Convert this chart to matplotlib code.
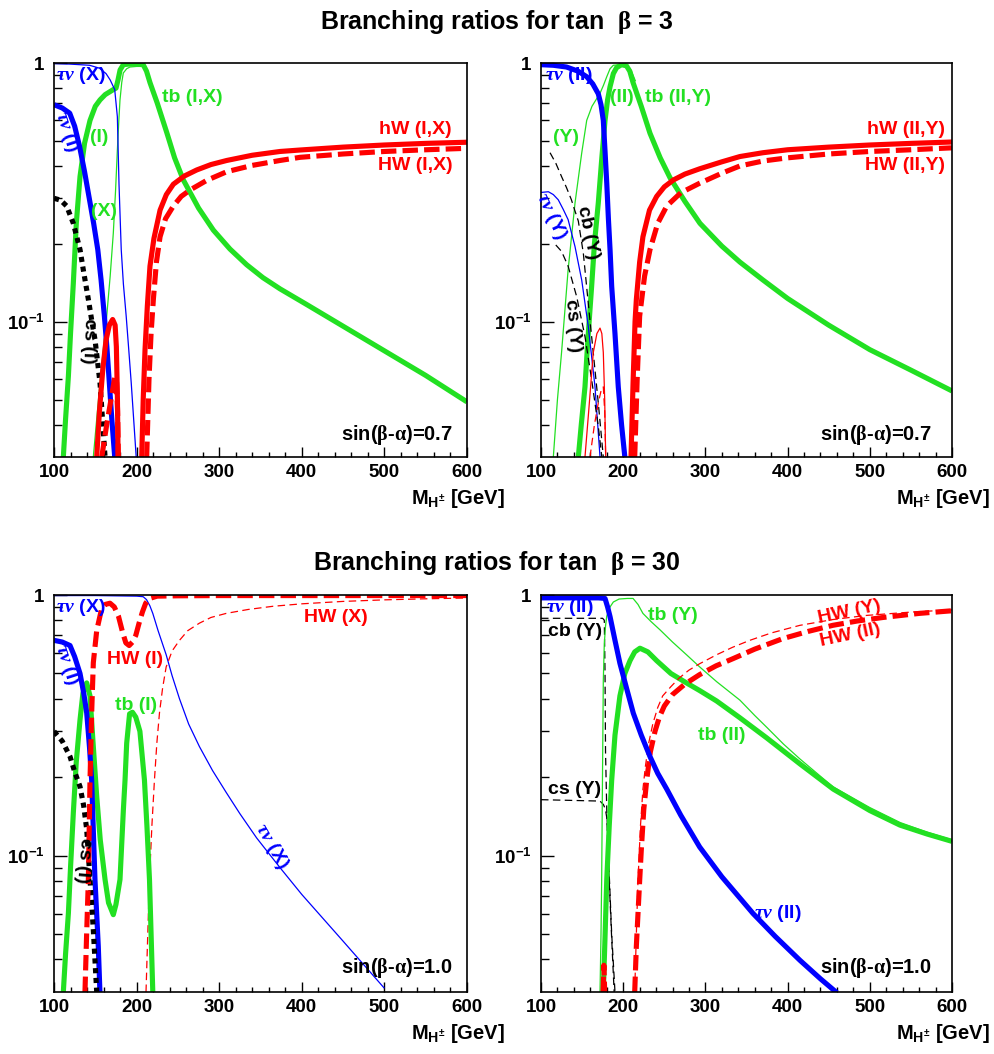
import matplotlib
matplotlib.use("Agg")
import matplotlib.pyplot as plt
from matplotlib import font_manager
from matplotlib.ticker import FixedLocator, NullFormatter

# ---------------- data (M_H+ [GeV], branching ratio) ----------------
# tan(beta)=3, sin(beta-alpha)=0.7, left panel (types I, X)
M_tl_taunu_I = [100, 110, 119, 125, 131, 137, 143, 148, 153, 157, 161, 164, 167, 170, 173.5]
BR_tl_taunu_I = [0.69, 0.67, 0.64, 0.57, 0.475, 0.38, 0.296, 0.24, 0.19, 0.145, 0.105, 0.08, 0.058, 0.042, 0.030]
M_tl_taunu_X = [100, 120, 143, 155, 163, 168, 173.5, 176.7, 178.7, 181.4, 184, 187.4, 190.5, 193.5, 199.5]
BR_tl_taunu_X = [0.995, 0.99, 0.98, 0.955, 0.91, 0.86, 0.79, 0.62, 0.34, 0.19, 0.14, 0.105, 0.078, 0.058, 0.030]
M_tl_tb_I = [111.3, 114, 117.4, 120, 123.4, 127, 131.5, 137, 143.6, 150, 155.7, 162, 167.8, 172, 175.1, 177.5, 180,
             183.9, 190, 200, 208, 212, 216.2, 225, 236.4, 246, 256.6, 275, 292.9, 313, 333.3, 353, 373.6, 405, 455,
             505, 550, 600]
BR_tl_tb_I = [0.03, 0.042, 0.0615, 0.09, 0.141, 0.24, 0.364, 0.49, 0.60, 0.68, 0.72, 0.755, 0.775, 0.79, 0.80, 0.86, 0.94,
              0.985, 0.99, 0.99, 0.985, 0.93, 0.84, 0.70, 0.54, 0.43, 0.353, 0.275, 0.226, 0.191, 0.166, 0.148, 0.134,
              0.117, 0.094, 0.0755, 0.062, 0.049]
M_tl_tb_X = [147.6, 152, 155.7, 160, 163.8, 168, 171.8, 174.5, 176.7, 178.5, 179.9, 182, 183.9, 188, 192, 200, 208, 212,
             216.2, 222]
BR_tl_tb_X = [0.03, 0.043, 0.058, 0.08, 0.105, 0.15, 0.22, 0.32, 0.46, 0.6, 0.72, 0.84, 0.915, 0.95, 0.965, 0.97, 0.97,
              0.93, 0.84, 0.74]
M_tl_cs_I = [100, 108, 115.3, 123.4, 131.5, 136, 141.6, 145.5, 149.7, 155.7, 161.8]
BR_tl_cs_I = [0.30, 0.295, 0.28, 0.24, 0.19, 0.155, 0.122, 0.102, 0.085, 0.058, 0.03]
M_tl_hW_I = [151.7, 155, 159, 163, 167, 171, 174, 175.5, 176.8, 177.6]
BR_tl_hW_I = [0.03, 0.045, 0.065, 0.085, 0.097, 0.102, 0.097, 0.08, 0.05, 0.03]
M_tl_HW_I = [157.8, 163.8, 169.9, 173.9, 175.8, 177, 177.9]
BR_tl_HW_I = [0.03, 0.04, 0.052, 0.062, 0.058, 0.045, 0.03]
M_tl_hW_IX = [206.2, 208, 210.2, 213, 216.2, 221, 228.4, 236, 244.5, 258, 272.8, 290, 309.1, 340, 373.6, 398, 450, 500,
              550, 600]
BR_tl_hW_IX = [0.03, 0.05, 0.078, 0.115, 0.164, 0.21, 0.27, 0.31, 0.34, 0.366, 0.386, 0.405, 0.42, 0.44, 0.455, 0.461,
               0.473, 0.482, 0.489, 0.494]
M_tl_HW_IX = [212.2, 215, 217.5, 220.3, 224, 228.4, 235, 244.5, 254, 264.7, 285, 309.1, 340, 373.6, 398, 450, 500, 550, 600]
BR_tl_HW_IX = [0.03, 0.06, 0.09, 0.122, 0.17, 0.213, 0.25, 0.28, 0.305, 0.323, 0.352, 0.38, 0.402, 0.42, 0.432, 0.445,
               0.455, 0.462, 0.468]

# tan(beta)=3, sin(beta-alpha)=0.7, right panel (types II, Y)
M_tr_taunu_II = [100, 115, 131, 145, 155.6, 163, 169.7, 173, 175.8, 178, 180, 182, 184, 186, 190, 194, 198, 202]
BR_tr_taunu_II = [0.985, 0.98, 0.965, 0.93, 0.885, 0.83, 0.76, 0.69, 0.60, 0.45, 0.343, 0.25, 0.19, 0.137, 0.09, 0.056,
                  0.04, 0.03]
M_tr_taunu_Y = [100, 109, 115, 121, 127, 133, 141.4, 149.5, 157.5, 165.7, 171.8]
BR_tr_taunu_Y = [0.316, 0.318, 0.31, 0.296, 0.272, 0.248, 0.195, 0.145, 0.096, 0.056, 0.03]
M_tr_tb_Y = [115, 120, 125, 133, 141.4, 149.5, 155.6, 162, 171.8, 176, 180, 184, 188, 196, 204, 210, 215]
BR_tr_tb_Y = [0.03, 0.05, 0.076, 0.159, 0.288, 0.448, 0.60, 0.68, 0.764, 0.82, 0.885, 0.95, 0.98, 0.985, 0.985, 0.93, 0.85]
M_tr_tb_II = [145.4, 149, 153.5, 157, 161.6, 165, 169.7, 174, 177.9, 181, 184, 188, 192, 198, 204, 208, 212, 222, 232.6,
              245, 257, 275, 293.4, 320, 342, 370, 400, 450, 500, 550, 600]
BR_tr_tb_II = [0.03, 0.04, 0.056, 0.085, 0.137, 0.2, 0.288, 0.43, 0.60, 0.72, 0.81, 0.91, 0.96, 0.985, 0.975, 0.93, 0.84,
               0.68, 0.535, 0.43, 0.36, 0.292, 0.24, 0.196, 0.17, 0.145, 0.123, 0.097, 0.078, 0.065, 0.054]
M_tr_cb_Y = [111, 118, 125, 131, 137, 141, 145.4, 151.5, 157.5, 163.6, 169.7, 175.8]
BR_tr_cb_Y = [0.45, 0.41, 0.364, 0.33, 0.296, 0.27, 0.245, 0.184, 0.118, 0.0757, 0.0485, 0.03]
M_tr_cs_Y = [118, 125, 133, 143.4, 153.5, 161.6, 169.7, 174]
BR_tr_cs_Y = [0.198, 0.187, 0.164, 0.125, 0.0877, 0.0597, 0.0394, 0.03]
M_tr_hW_Y = [153.5, 158, 163.6, 168, 171.8, 174, 175.8, 177.5, 178.7]
BR_tr_hW_Y = [0.03, 0.045, 0.076, 0.09, 0.0945, 0.09, 0.076, 0.05, 0.03]
M_tr_HW_Y = [159.6, 165, 169.7, 173, 175.8, 177.5, 178.7]
BR_tr_HW_Y = [0.03, 0.04, 0.0485, 0.054, 0.056, 0.045, 0.03]
M_tr_hW_IIY = [209.5, 212, 214.4, 216, 220, 224, 232, 240.7, 250, 261, 275, 293, 320, 342, 370, 400, 450, 500, 550, 600]
BR_tr_hW_IIY = [0.03, 0.058, 0.1, 0.122, 0.17, 0.213, 0.27, 0.305, 0.332, 0.353, 0.372, 0.39, 0.415, 0.435, 0.45, 0.462,
                0.473, 0.482, 0.489, 0.495]
M_tr_HW_IIY = [214, 217, 220, 226, 232.6, 242, 253, 270, 293, 320, 342, 370, 400, 450, 500, 550, 600]
BR_tr_HW_IIY = [0.03, 0.06, 0.105, 0.15, 0.19, 0.24, 0.28, 0.315, 0.343, 0.375, 0.40, 0.418, 0.43, 0.445, 0.455, 0.462,
                0.47]

# tan(beta)=30, sin(beta-alpha)=1.0, left panel (types I, X)
M_bl_taunu_I = [100, 110, 119.4, 125, 131.5, 136, 139.6, 143, 145.6, 147.6, 149.6, 153.6, 155.6]
BR_bl_taunu_I = [0.67, 0.66, 0.64, 0.58, 0.50, 0.42, 0.353, 0.26, 0.195, 0.125, 0.081, 0.045, 0.03]
M_bl_taunu_X = [100, 150, 200, 208, 212, 216, 219.6, 226, 235.8, 243, 251.9, 263, 276.1, 292, 308.4, 325, 345.3, 373.6,
                400, 450, 500]
BR_bl_taunu_X = [0.995, 0.995, 0.99, 0.985, 0.96, 0.91, 0.85, 0.73, 0.59, 0.49, 0.40, 0.32, 0.262, 0.212, 0.175, 0.145,
                 0.117, 0.09, 0.071, 0.047, 0.031]
M_bl_cs_I = [100, 110, 119.4, 125, 131.5, 136, 139.6, 143.6, 147.6, 151.7]
BR_bl_cs_I = [0.30, 0.275, 0.24, 0.21, 0.184, 0.155, 0.126, 0.081, 0.052, 0.03]
M_bl_tb_I = [111.3, 114, 117.4, 120, 123.4, 127, 131.5, 135, 139.6, 143.6, 147, 151.7, 156, 161.8, 166, 171.8, 175,
             179.9, 184, 186, 188, 191.5, 195, 199, 204, 209.5, 212.5, 215.6, 219.6]
BR_bl_tb_I = [0.03, 0.042, 0.06, 0.09, 0.146, 0.23, 0.332, 0.42, 0.46, 0.41, 0.28, 0.169, 0.115, 0.081, 0.066, 0.0594,
              0.065, 0.081, 0.15, 0.195, 0.27, 0.35, 0.355, 0.34, 0.30, 0.195, 0.13, 0.081, 0.03]
M_bl_HW_I = [137.5, 139.5, 141.6, 143.6, 145.6, 147.6, 151.7, 157.8, 162, 167.8, 173, 178, 183, 187, 191, 195, 199, 203,
             207, 211, 215.6, 225, 250, 300, 400, 500, 600]
BR_bl_HW_I = [0.03, 0.05, 0.081, 0.195, 0.353, 0.55, 0.73, 0.89, 0.92, 0.93, 0.9, 0.83, 0.72, 0.655, 0.64, 0.66, 0.70,
              0.78, 0.86, 0.93, 0.97, 0.99, 0.993, 0.995, 0.995, 0.995, 0.995]
M_bl_HW_X = [211.4, 213.5, 215.6, 218.5, 221.6, 224.5, 227.7, 231.5, 235.8, 243, 251.9, 262, 276.1, 290, 308.4, 335,
             364.9, 400, 450, 500, 550, 600]
BR_bl_HW_X = [0.03, 0.05, 0.081, 0.13, 0.195, 0.27, 0.353, 0.44, 0.53, 0.61, 0.67, 0.73, 0.78, 0.82, 0.85, 0.88, 0.905,
              0.925, 0.945, 0.958, 0.967, 0.974]

# tan(beta)=30, sin(beta-alpha)=1.0, right panel (types II, Y)
M_br_taunu_II = [100, 170, 177.9, 181, 184, 190, 196, 204, 212.3, 222, 232.6, 242, 253, 270, 293, 320, 358, 385, 415,
                 440, 460]
BR_br_taunu_II = [0.975, 0.975, 0.97, 0.9, 0.826, 0.67, 0.547, 0.44, 0.352, 0.29, 0.24, 0.207, 0.18, 0.143, 0.108,
                  0.083, 0.06, 0.049, 0.0397, 0.0337, 0.0298]
M_br_tb_Y = [171.8, 173, 173.8, 174.8, 175.8, 177, 178.5, 180, 184, 188, 195, 205, 212, 218, 224, 234, 244.8, 260, 277,
             293, 313.7, 342, 360, 375, 395, 415, 455, 500, 537, 570, 600]
BR_br_tb_Y = [0.03, 0.05, 0.081, 0.2, 0.47, 0.65, 0.76, 0.83, 0.9, 0.94, 0.965, 0.97, 0.97, 0.92, 0.85, 0.79, 0.735,
              0.66, 0.59, 0.53, 0.465, 0.395, 0.345, 0.31, 0.268, 0.235, 0.184, 0.153, 0.134, 0.123, 0.115]
M_br_tb_II = [175.8, 178, 180, 183, 186, 190, 196, 202, 208.3, 214, 220.4, 230, 240.7, 258, 277, 293, 313.7, 342, 374.6,
              415, 455.6, 500, 536.7, 570, 600]
BR_br_tb_II = [0.03, 0.05, 0.081, 0.13, 0.195, 0.29, 0.41, 0.50, 0.56, 0.605, 0.625, 0.605, 0.56, 0.50, 0.46, 0.43,
               0.392, 0.338, 0.283, 0.225, 0.18, 0.149, 0.131, 0.121, 0.1135]
M_br_cb_Y = [100, 175, 177, 177.9, 178.5, 180, 183, 186, 190]
BR_br_cb_Y = [0.814, 0.814, 0.80, 0.5, 0.25, 0.15, 0.085, 0.05, 0.03]
M_br_cs_Y = [100, 171.8, 176, 178.5, 180, 183, 186, 189]
BR_br_cs_Y = [0.164, 0.162, 0.157, 0.15, 0.14, 0.08, 0.048, 0.03]
M_br_HW_II = [214, 216, 218, 220, 222, 225, 228.6, 233, 238.7, 244, 250, 260, 275, 293, 313, 333.6, 360, 394, 425, 455,
              485, 516, 560, 600]
BR_br_HW_II = [0.03, 0.045, 0.06, 0.08, 0.105, 0.15, 0.195, 0.25, 0.30, 0.34, 0.375, 0.415, 0.455, 0.495, 0.535, 0.57,
               0.62, 0.68, 0.725, 0.765, 0.795, 0.82, 0.85, 0.87]
M_br_HW_II_low = [175.5, 176.5, 177.5]
BR_br_HW_II_low = [0.03, 0.038, 0.03]
M_br_HW_Y = [214, 216, 218, 221, 224, 227, 231, 236, 242, 248, 258, 268, 280, 293, 313.7, 333, 354, 380, 415, 455, 496,
             550, 600]
BR_br_HW_Y = [0.03, 0.05, 0.08, 0.13, 0.18, 0.22, 0.27, 0.32, 0.37, 0.41, 0.445, 0.48, 0.515, 0.545, 0.59, 0.63, 0.67,
              0.715, 0.765, 0.805, 0.835, 0.86, 0.877]

X_TICKS = [100, 200, 300, 400, 500, 600]
Y_TICKS = [0.1, 1.0]
Y_TICK_LABELS = [r'$\mathbf{10^{-1}}$', '1']

# ---------------- style ----------------
W, H = 994, 1054
plt.rcParams['font.family'] = ['Liberation Sans', 'DejaVu Sans']
plt.rcParams['font.weight'] = 'bold'
plt.rcParams['mathtext.fontset'] = 'custom'
plt.rcParams['mathtext.rm'] = 'Liberation Serif'
plt.rcParams['mathtext.it'] = 'Liberation Serif:italic'
plt.rcParams['mathtext.bf'] = 'Liberation Sans:bold'
plt.rcParams['mathtext.sf'] = 'Liberation Sans:bold'

names = {f.name for f in font_manager.fontManager.ttflist}
TITLE_FAM = ['Liberation Sans Narrow', 'Liberation Sans'] if 'Liberation Sans Narrow' in names else ['Liberation Sans']
TITLE_SIZE = 21 if 'Liberation Sans Narrow' in names else 18

BLUE, GREEN, RED, BLACK = '#0000ff', '#22e022', '#ff0000', '#000000'
THICK, THIN = 3.7, 0.9

fig = plt.figure(figsize=(W / 100, H / 100), dpi=100)


def make_ax(x0, x1, yt, yb):
    ax = fig.add_axes([x0 / W, 1 - yb / H, (x1 - x0) / W, (yb - yt) / H])
    ax.set_xlim(100, 600)
    ax.set_ylim(0.03, 1.0)
    ax.set_yscale('log')
    ax.xaxis.set_major_locator(FixedLocator(X_TICKS))
    ax.xaxis.set_minor_locator(FixedLocator(list(range(100, 601, 20))))
    ax.set_xticklabels([str(t) for t in X_TICKS])
    ax.yaxis.set_major_locator(FixedLocator(Y_TICKS))
    ax.set_yticklabels(Y_TICK_LABELS)
    ax.yaxis.set_minor_locator(FixedLocator([0.04, 0.05, 0.06, 0.07, 0.08, 0.09, 0.2, 0.3, 0.4, 0.5, 0.6, 0.7, 0.8, 0.9]))
    ax.yaxis.set_minor_formatter(NullFormatter())
    ax.tick_params(axis='x', which='major', direction='in', length=7.5, width=1.0, labelsize=13.5, pad=5,
                   top=False)
    ax.tick_params(axis='x', which='minor', direction='in', length=3.8, width=1.0, top=False)
    ax.tick_params(axis='y', which='major', direction='in', length=9.5, width=1.0, labelsize=13.5, pad=7,
                   right=False)
    ax.tick_params(axis='y', which='minor', direction='in', length=5.5, width=1.0, right=False)
    for lab in ax.get_xticklabels() + ax.get_yticklabels():
        lab.set_fontweight('bold')
    for s in ax.spines.values():
        s.set_linewidth(1.2)
    ax.text(1 + 38 / (x1 - x0), -47 / (yb - yt), r'$\mathbf{M_{H^{\pm}}}$ [GeV]', transform=ax.transAxes,
            ha='right', va='baseline', fontsize=14.5, fontweight='bold')
    return ax


def line(ax, m, br, color, lw, style='-'):
    kw = dict(color=color, lw=lw, solid_capstyle='butt', dash_capstyle='butt', solid_joinstyle='round')
    if style == '--':
        kw['dashes'] = (3.0, 1.2) if lw > 2 else (6.0, 3.5)
    elif style == ':':
        kw['dashes'] = (1.0, 0.9)
    ax.plot(m, br, **kw)


def lab(s, x, y, color, size=14, rot=0, ha='center', va='center'):
    fig.text(x / W, 1 - y / H, s, color=color, fontsize=size, rotation=rot, ha=ha, va=va,
             rotation_mode='anchor', fontweight='bold')


TAU = r'$\tau\nu$'
SIN07 = r'sin($\mathrm{\beta}$-$\mathrm{\alpha}$)=0.7'
SIN10 = r'sin($\mathrm{\beta}$-$\mathrm{\alpha}$)=1.0'

# ---- top left ----
ax = make_ax(54, 467, 63, 457)
line(ax, M_tl_tb_X, BR_tl_tb_X, GREEN, THIN)
line(ax, M_tl_tb_I, BR_tl_tb_I, GREEN, THICK)
line(ax, M_tl_taunu_X, BR_tl_taunu_X, BLUE, THIN)
line(ax, M_tl_taunu_I, BR_tl_taunu_I, BLUE, THICK)
line(ax, M_tl_cs_I, BR_tl_cs_I, BLACK, THICK, ':')
line(ax, M_tl_hW_I, BR_tl_hW_I, RED, THICK)
line(ax, M_tl_HW_I, BR_tl_HW_I, RED, THICK, '--')
line(ax, M_tl_hW_IX, BR_tl_hW_IX, RED, THICK)
line(ax, M_tl_HW_IX, BR_tl_HW_IX, RED, THICK, '--')
lab(TAU + ' (X)', 56, 75, BLUE, ha='left')
lab(TAU + ' (I)', 66, 132, BLUE, rot=-72)
lab('(I)', 99, 138, GREEN)
lab('(X)', 104, 211, GREEN)
lab('tb (I,X)', 192, 98, GREEN)
lab('hW (I,X)', 452, 129, RED, ha='right')
lab('HW (I,X)', 453, 165, RED, ha='right')
lab('cs (I)', 89, 341, BLACK, rot=-92)
lab(SIN07, 453, 440, BLACK, size=14.5, ha='right', va='baseline')

# ---- top right ----
ax = make_ax(541, 952, 63, 457)
line(ax, M_tr_tb_Y, BR_tr_tb_Y, GREEN, THIN)
line(ax, M_tr_tb_II, BR_tr_tb_II, GREEN, THICK)
line(ax, M_tr_taunu_Y, BR_tr_taunu_Y, BLUE, THIN)
line(ax, M_tr_cb_Y, BR_tr_cb_Y, BLACK, THIN, '--')
line(ax, M_tr_cs_Y, BR_tr_cs_Y, BLACK, THIN, '--')
line(ax, M_tr_hW_Y, BR_tr_hW_Y, RED, THIN)
line(ax, M_tr_HW_Y, BR_tr_HW_Y, RED, THIN, '--')
line(ax, M_tr_taunu_II, BR_tr_taunu_II, BLUE, THICK)
line(ax, M_tr_hW_IIY, BR_tr_hW_IIY, RED, THICK)
line(ax, M_tr_HW_IIY, BR_tr_HW_IIY, RED, THICK, '--')
lab(TAU + ' (II)', 545, 75, BLUE, ha='left')
lab('(II)', 622, 98, GREEN)
lab('tb (II,Y)', 678, 98, GREEN)
lab('(Y)', 566, 138, GREEN)
lab(TAU + ' (Y)', 551, 216, BLUE, rot=-65)
lab('cb (Y)', 588, 233, BLACK, rot=-78)
lab('cs (Y)', 573, 326, BLACK, rot=-85)
lab('hW (II,Y)', 945, 129, RED, ha='right')
lab('HW (II,Y)', 945, 166, RED, ha='right')
lab(SIN07, 932, 440, BLACK, size=14.5, ha='right', va='baseline')

# ---- bottom left ----
ax = make_ax(54, 467, 595, 992)
line(ax, M_bl_taunu_X, BR_bl_taunu_X, BLUE, THIN)
line(ax, M_bl_HW_X, BR_bl_HW_X, RED, THIN, '--')
line(ax, M_bl_tb_I, BR_bl_tb_I, GREEN, THICK)
line(ax, M_bl_taunu_I, BR_bl_taunu_I, BLUE, THICK)
line(ax, M_bl_cs_I, BR_bl_cs_I, BLACK, THICK, ':')
line(ax, M_bl_HW_I, BR_bl_HW_I, RED, THICK, '--')
lab(TAU + ' (X)', 56, 607, BLUE, ha='left')
lab(TAU + ' (I)', 66, 665, BLUE, rot=-72)
lab('HW (I)', 135, 660, RED)
lab('tb (I)', 136, 706, GREEN)
lab('HW (X)', 336, 618, RED)
lab('cs (I)', 83, 860, BLACK, rot=-95)
lab(TAU + ' (X)', 272, 846, BLUE, rot=-60)
lab(SIN10, 453, 973, BLACK, size=14.5, ha='right', va='baseline')

# ---- bottom right ----
ax = make_ax(541, 952, 595, 992)
line(ax, M_br_cb_Y, BR_br_cb_Y, BLACK, THIN, '--')
line(ax, M_br_cs_Y, BR_br_cs_Y, BLACK, THIN, '--')
line(ax, M_br_tb_Y, BR_br_tb_Y, GREEN, THIN)
line(ax, M_br_tb_II, BR_br_tb_II, GREEN, THICK)
line(ax, M_br_HW_Y, BR_br_HW_Y, RED, THIN, '--')
line(ax, M_br_HW_II, BR_br_HW_II, RED, THICK, '--')
line(ax, M_br_HW_II_low, BR_br_HW_II_low, RED, THICK, '--')
line(ax, M_br_taunu_II, BR_br_taunu_II, BLUE, THICK)
lab(TAU + ' (II)', 546, 607, BLUE, ha='left')
lab('cb (Y)', 548, 632, BLACK, ha='left')
lab('tb (Y)', 673, 616, GREEN)
lab('cs (Y)', 548, 790, BLACK, ha='left')
lab('HW (Y)', 849, 612, RED, rot=12)
lab('HW (II)', 850, 635, RED, rot=12)
lab('tb (II)', 722, 736, GREEN)
lab(TAU + ' (II)', 778, 913, BLUE)
lab(SIN10, 932, 973, BLACK, size=14.5, ha='right', va='baseline')

# ---- titles ----
for txt, y in [(r'Branching ratios for tan  $\mathrm{\beta}$ = 3', 22),
               (r'Branching ratios for tan  $\mathrm{\beta}$ = 30', 563)]:
    fig.text(497 / W, 1 - y / H, txt, ha='center', va='center', fontsize=TITLE_SIZE, fontweight='bold',
             family=TITLE_FAM)

fig.savefig('out.png', dpi=100)
